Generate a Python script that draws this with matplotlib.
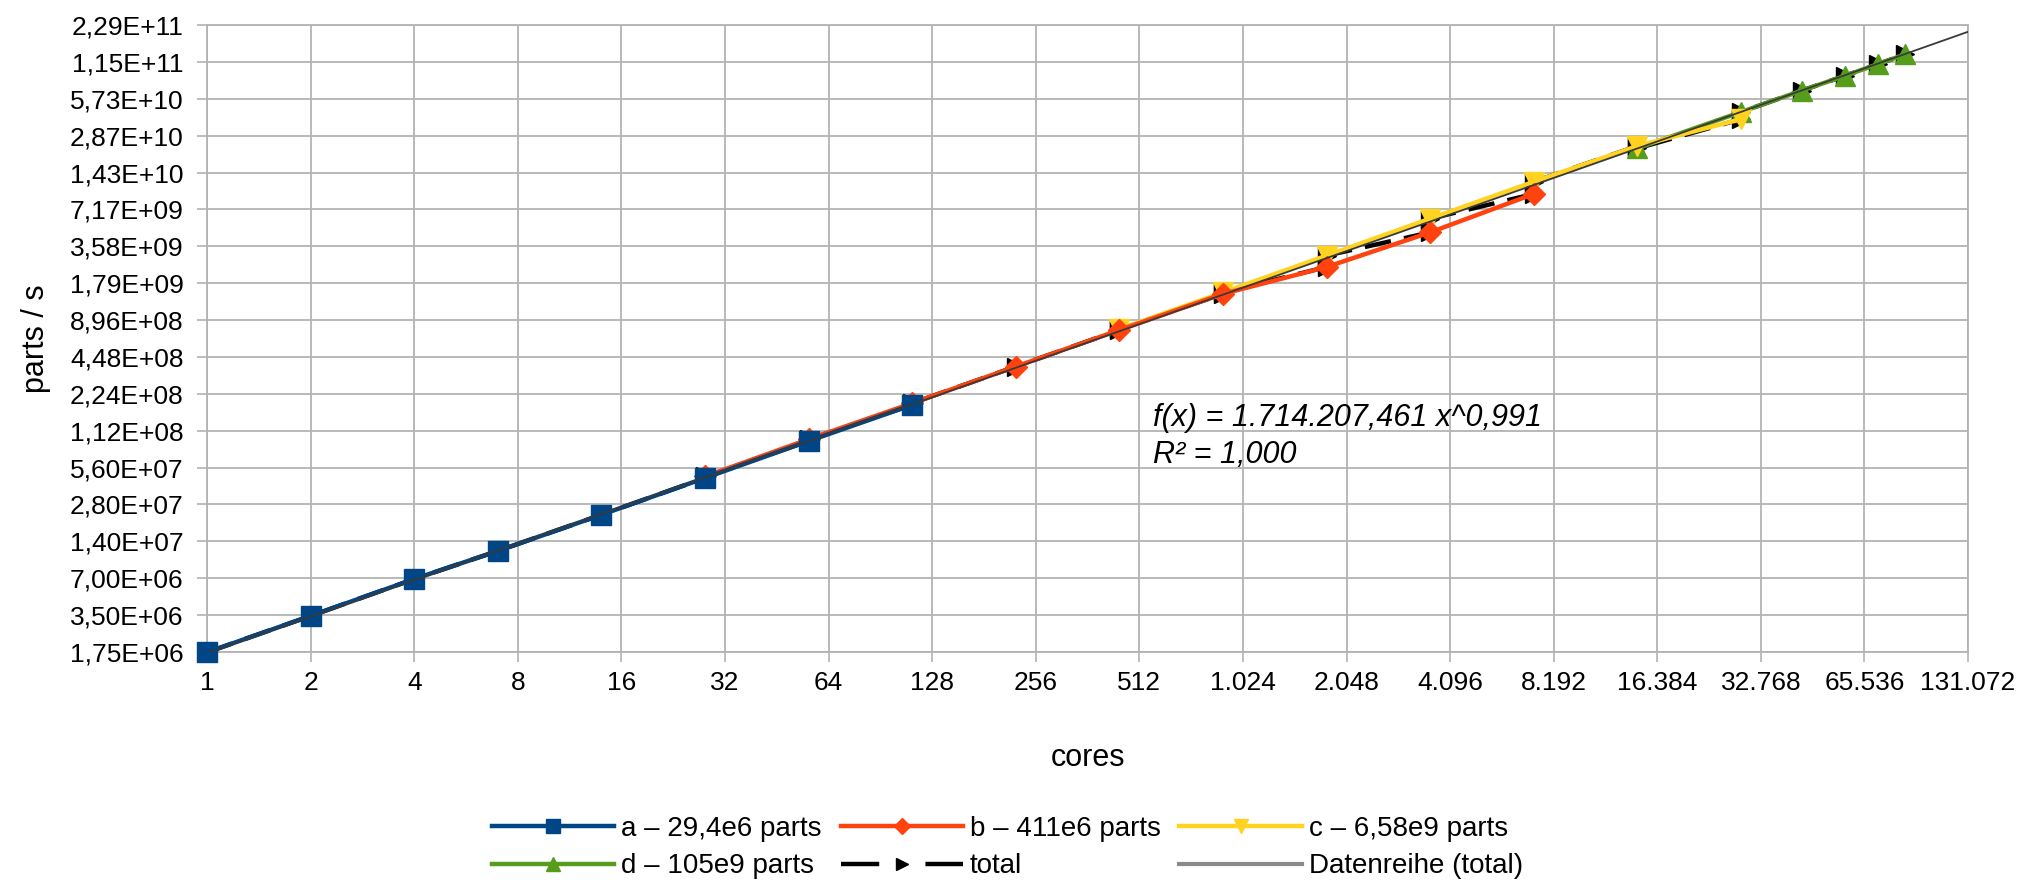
import matplotlib
matplotlib.use("Agg")
import matplotlib.pyplot as plt
from matplotlib.ticker import FixedLocator, FixedFormatter, NullLocator

plt.rcParams['font.family'] = ['Liberation Sans', 'DejaVu Sans']

# cores / parts per second
a_cores = [1, 2, 4, 7, 14, 28, 56, 112]
a_rate = [1.74e6, 3.45e6, 6.90e6, 1.17e7, 2.31e7, 4.61e7, 9.22e7, 1.82e8]

b_cores = [28, 56, 112, 224, 448, 896, 1792, 3584, 7168]
b_rate = [4.74e7, 9.55e7, 1.88e8, 3.74e8, 7.43e8, 1.466e9, 2.43e9, 4.66e9, 9.59e9]

c_cores = [448, 896, 1792, 3584, 7168, 14336, 28672]
c_rate = [7.53e8, 1.507e9, 3.01e9, 6.03e9, 1.206e10, 2.36e10, 3.91e10]

d_cores = [14336, 28672, 43008, 57344, 71680, 86016]
d_rate = [2.26e10, 4.47e10, 6.68e10, 8.81e10, 1.10e11, 1.32e11]

# power-law trendline shown on the chart
fit_a = 1714207.461
fit_b = 0.991
fit_x = [1, 131072]

x_ticks = [2 ** k for k in range(18)]
x_tick_labels = ['1', '2', '4', '8', '16', '32', '64', '128', '256', '512', '1.024',
                 '2.048', '4.096', '8.192', '16.384', '32.768', '65.536', '131.072']
y_ticks = [1.75e6 * 2 ** k for k in range(18)]
y_tick_labels = ['1,75E+06', '3,50E+06', '7,00E+06', '1,40E+07', '2,80E+07', '5,60E+07',
                 '1,12E+08', '2,24E+08', '4,48E+08', '8,96E+08', '1,79E+09', '3,58E+09',
                 '7,17E+09', '1,43E+10', '2,87E+10', '5,73E+10', '1,15E+11', '2,29E+11']

# total = all points together, sorted by cores
total = sorted(zip(a_cores + b_cores + c_cores + d_cores, a_rate + b_rate + c_rate + d_rate),
               key=lambda p: p[0])
total_cores = [p[0] for p in total]
total_rate = [p[1] for p in total]

fig = plt.figure(figsize=(20.26, 8.81), dpi=100)
ax = fig.add_axes([0.1022, 0.2599, 0.8692, 0.7117])
ax.set_xscale('log', base=2)
ax.set_yscale('log', base=2)

lw = 3.2
h_tot, = ax.plot(total_cores, total_rate, color='black', lw=lw, ls=(0, (6, 3)), marker='>',
                 ms=13, zorder=2, clip_on=False, label='total')
h_d, = ax.plot(d_cores, d_rate, color='#579d1c', lw=lw, marker='^', ms=14, zorder=3,
               clip_on=False, label='d – 105e9 parts')
h_c, = ax.plot(c_cores, c_rate, color='#ffd320', lw=lw, marker='v', ms=14, zorder=4,
               clip_on=False, label='c – 6,58e9 parts')
h_b, = ax.plot(b_cores, b_rate, color='#ff420e', lw=lw, marker='D', ms=11, zorder=5,
               clip_on=False, label='b – 411e6 parts')
h_a, = ax.plot(a_cores, a_rate, color='#004586', lw=lw, marker='s', ms=15, zorder=6,
               clip_on=False, label='a – 29,4e6 parts')
h_fit, = ax.plot(fit_x, [fit_a * x ** fit_b for x in fit_x], color='#3a3a3a', lw=1.3,
                 zorder=7, label='Datenreihe (total)')

ax.set_xlim(1, 131072)
ax.set_ylim(y_ticks[0], y_ticks[-1])
ax.xaxis.set_major_locator(FixedLocator(x_ticks))
ax.xaxis.set_major_formatter(FixedFormatter(x_tick_labels))
ax.xaxis.set_minor_locator(NullLocator())
ax.yaxis.set_major_locator(FixedLocator(y_ticks))
ax.yaxis.set_major_formatter(FixedFormatter(y_tick_labels))
ax.yaxis.set_minor_locator(NullLocator())

ax.grid(True, color='#b3b3b3', lw=1.3)
ax.set_axisbelow(True)
for s in ax.spines.values():
    s.set_color('#b3b3b3')
    s.set_linewidth(1.3)
ax.tick_params(axis='both', length=7, width=1.2, color='#b3b3b3', labelsize=19)
ax.tick_params(axis='y', pad=10)
ax.tick_params(axis='x', pad=7)

ax.set_xlabel('cores', fontsize=22)
ax.set_ylabel('parts / s', fontsize=22)
ax.xaxis.set_label_coords(0.5, -0.145)
ax.yaxis.set_label_coords(-0.0885, 0.5)

fig.text(0.569, 0.5255, 'f(x) = 1.714.207,461 x^0,991', fontsize=22, style='italic',
         va='center', ha='left')
fig.text(0.569, 0.484, 'R² = 1,000', fontsize=22, style='italic', va='center', ha='left')

leg = fig.legend([h_a, h_d, h_b, h_tot, h_c, h_fit],
                 [h.get_label() for h in [h_a, h_d, h_b, h_tot, h_c, h_fit]],
                 ncol=3, loc='upper left', bbox_to_anchor=(492 / 2026, 0.074),
                 frameon=False, fontsize=20, handlelength=4.4, handletextpad=0.25,
                 columnspacing=0.68, labelspacing=0.42, borderpad=0, borderaxespad=0,
                 markerscale=0.7)
leg.legend_handles[3].set_dashes([8.6, 10.4])
leg.legend_handles[5].set_color('#8a8a8a')
leg.legend_handles[5].set_linewidth(3)

fig.savefig('out.png', dpi=100)
